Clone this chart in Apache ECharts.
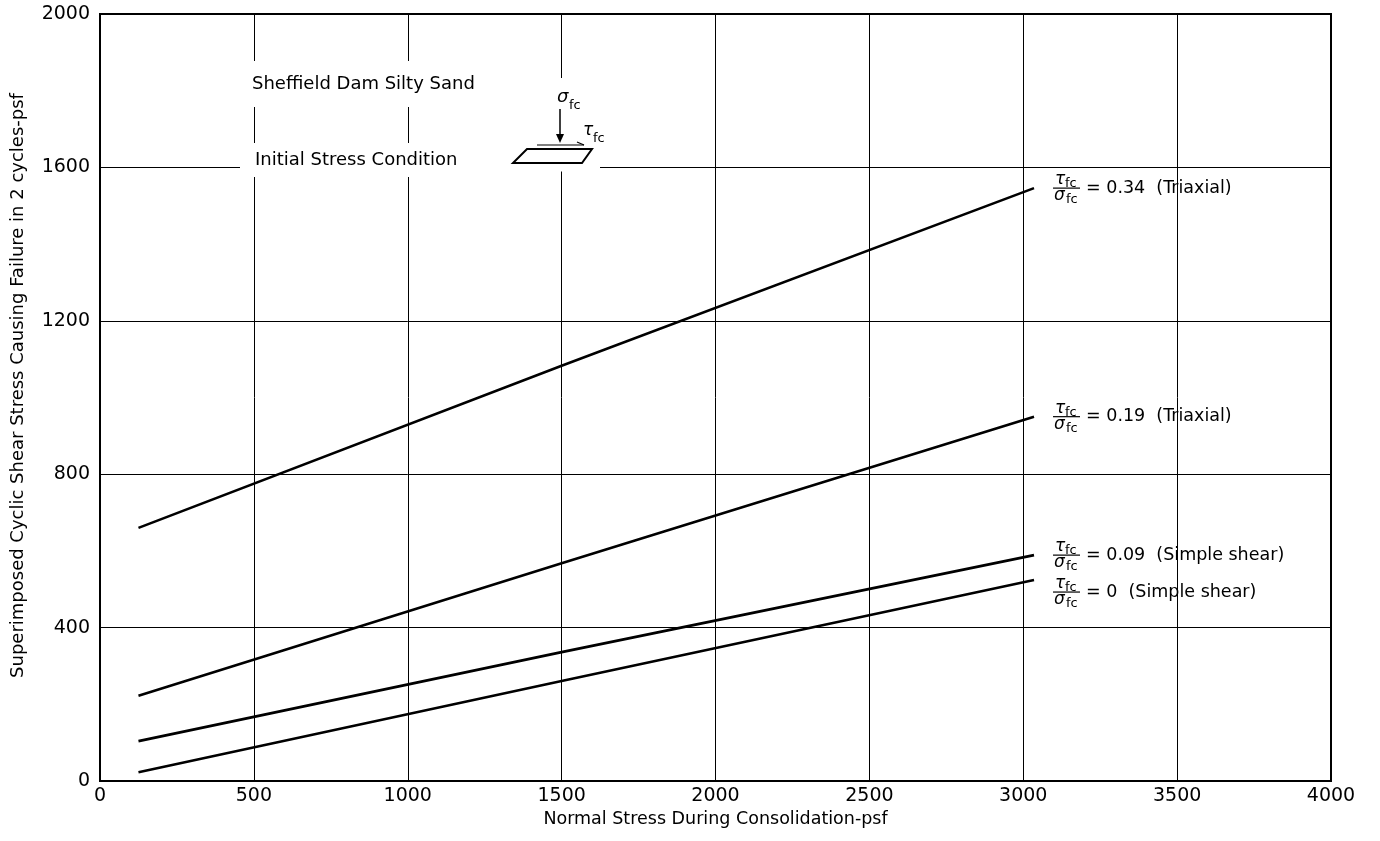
<!DOCTYPE html>
<html>
<head>
<meta charset="utf-8">
<script src="https://cdn.jsdelivr.net/npm/echarts@6/dist/echarts.min.js"></script>
<style>
  html, body { margin: 0; padding: 0; background: #fff; }
  #chart { width: 1380px; height: 841px; }
</style>
</head>
<body>
<div id="chart"></div>
<script>
// Normal stress during consolidation (psf) at which each curve is read
const normalStress = [125, 1500, 3035];

// Superimposed cyclic shear stress causing failure in 2 cycles (psf)
const shear034 = [660, 1083, 1546];
const shear019 = [222, 568, 950];
const shear009 = [104, 336, 589];
const shear000 = [23, 261, 524];

// Curve labels: stress ratio tau_fc / sigma_fc and test type
const stressRatios = ['0.34', '0.19', '0.09', '0'];
const testTypes = ['Triaxial', 'Triaxial', 'Simple shear', 'Simple shear'];

const FONT = '"DejaVu Sans", "Liberation Sans", sans-serif';

const curves = [shear034, shear019, shear009, shear000];

const chart = echarts.init(document.getElementById('chart'), null, { renderer: 'canvas' });

const option = {
  backgroundColor: '#fff',
  animation: false,
  grid: {
    left: 100, right: 49, top: 14, bottom: 60,
    show: true, borderColor: '#000', borderWidth: 2, backgroundColor: 'transparent'
  },
  xAxis: {
    type: 'value', min: 0, max: 4000, interval: 500,
    name: 'Normal Stress During Consolidation-psf',
    nameLocation: 'middle', nameGap: 29,
    nameTextStyle: { fontFamily: FONT, fontSize: 17.5, color: '#000' },
    axisLine: { show: true, lineStyle: { color: '#000', width: 2 } },
    axisTick: { show: false },
    axisLabel: { fontFamily: FONT, fontSize: 19, color: '#000', margin: 6, formatter: v => String(v) },
    splitLine: { show: true, lineStyle: { color: '#000', width: 1 } }
  },
  yAxis: {
    type: 'value', min: 0, max: 2000, interval: 400,
    name: 'Superimposed Cyclic Shear Stress Causing Failure in 2 cycles-psf',
    nameLocation: 'middle', nameGap: 73, nameRotate: 90,
    nameTextStyle: { fontFamily: FONT, fontSize: 18, color: '#000', padding: [0, 0, 0, 24] },
    axisLine: { show: true, lineStyle: { color: '#000', width: 2 } },
    axisTick: { show: false },
    axisLabel: { fontFamily: FONT, fontSize: 19, color: '#000', margin: 10, formatter: v => String(v) },
    splitLine: { show: true, lineStyle: { color: '#000', width: 1 } }
  },
  series: curves.map((vals, i) => ({
    type: 'line',
    name: stressRatios[i],
    data: normalStress.map((x, j) => [x, vals[j]]),
    showSymbol: false,
    smooth: false,
    z: 5,
    lineStyle: { color: '#000', width: 2.6 }
  }))
};

chart.setOption(option);

// Annotations: title text, the loading sketch and the stress-ratio labels
const graphics = [];

// white patches where the gridlines are interrupted around the sketch
const yAt1600 = chart.convertToPixel({ yAxisIndex: 0 }, 1600);
graphics.push({ type: 'rect', z: 10, shape: { x: 240, y: yAt1600 - 4, width: 360, height: 8 }, style: { fill: '#fff' } });
graphics.push({ type: 'rect', z: 10, shape: { x: 500, y: 78, width: 112, height: 85 }, style: { fill: '#fff' } });

graphics.push({
  type: 'text', z: 20, x: 248, y: 84,
  style: { text: 'Sheffield Dam Silty Sand', font: '18px ' + FONT, fill: '#000',
           textVerticalAlign: 'middle', backgroundColor: '#fff', padding: [14, 6, 14, 4] }
});
graphics.push({
  type: 'text', z: 20, x: 251, y: 160,
  style: { text: 'Initial Stress Condition', font: '18px ' + FONT, fill: '#000',
           textVerticalAlign: 'middle', backgroundColor: '#fff', padding: [8, 6, 8, 4] }
});

// sketch of the element under sigma_fc and tau_fc
graphics.push({ type: 'text', z: 20, x: 557, y: 97,
  style: { text: 'σ', font: 'italic 18px ' + FONT, fill: '#000', textVerticalAlign: 'middle' } });
graphics.push({ type: 'text', z: 20, x: 569, y: 106,
  style: { text: 'fc', font: '13px ' + FONT, fill: '#000', textVerticalAlign: 'middle' } });
graphics.push({ type: 'line', z: 20, shape: { x1: 560, y1: 109, x2: 560, y2: 137 },
  style: { stroke: '#000', lineWidth: 1.5 } });
graphics.push({ type: 'polygon', z: 20, shape: { points: [[556, 134], [564, 134], [560, 143]] },
  style: { fill: '#000' } });
graphics.push({ type: 'line', z: 20, shape: { x1: 537, y1: 145, x2: 584, y2: 145 },
  style: { stroke: '#000', lineWidth: 1.2 } });
graphics.push({ type: 'line', z: 20, shape: { x1: 577, y1: 142, x2: 584, y2: 145 },
  style: { stroke: '#000', lineWidth: 1.2 } });
graphics.push({ type: 'polygon', z: 20, shape: { points: [[527, 149], [592, 149], [582, 163], [513, 163]] },
  style: { fill: '#fff', stroke: '#000', lineWidth: 2 } });
graphics.push({ type: 'text', z: 20, x: 583, y: 131,
  style: { text: 'τ', font: 'italic 17px ' + FONT, fill: '#000', textVerticalAlign: 'middle' } });
graphics.push({ type: 'text', z: 20, x: 593, y: 139,
  style: { text: 'fc', font: '13px ' + FONT, fill: '#000', textVerticalAlign: 'middle' } });

// stress-ratio labels placed at the end of each curve
const labelShift = [0, 0, 0, 12];
curves.forEach((vals, i) => {
  const last = vals.length - 1;
  const p = chart.convertToPixel({ seriesIndex: i }, [normalStress[last], vals[last]]);
  const gx = p[0] + 20;
  const gy = p[1] + labelShift[i];
  graphics.push({
    type: 'group', x: gx, y: gy, z: 20,
    children: [
      { type: 'text', x: 1, y: 0, style: { text: 'τ', font: 'italic 17px ' + FONT, fill: '#000', textVerticalAlign: 'bottom' } },
      { type: 'text', x: 11, y: 2, style: { text: 'fc', font: '13px ' + FONT, fill: '#000', textVerticalAlign: 'bottom' } },
      { type: 'line', shape: { x1: -1, y1: 0, x2: 26, y2: 0 }, style: { stroke: '#000', lineWidth: 1.2 } },
      { type: 'text', x: 0, y: -1, style: { text: 'σ', font: 'italic 17px ' + FONT, fill: '#000', textVerticalAlign: 'top' } },
      { type: 'text', x: 12, y: 5, style: { text: 'fc', font: '13px ' + FONT, fill: '#000', textVerticalAlign: 'top' } },
      { type: 'text', x: 32, y: 0, style: { text: '= ' + stressRatios[i] + '  (' + testTypes[i] + ')', font: '17.5px ' + FONT, fill: '#000', textVerticalAlign: 'middle' } }
    ]
  });
});

chart.setOption({ graphic: graphics });
</script>
</body>
</html>
